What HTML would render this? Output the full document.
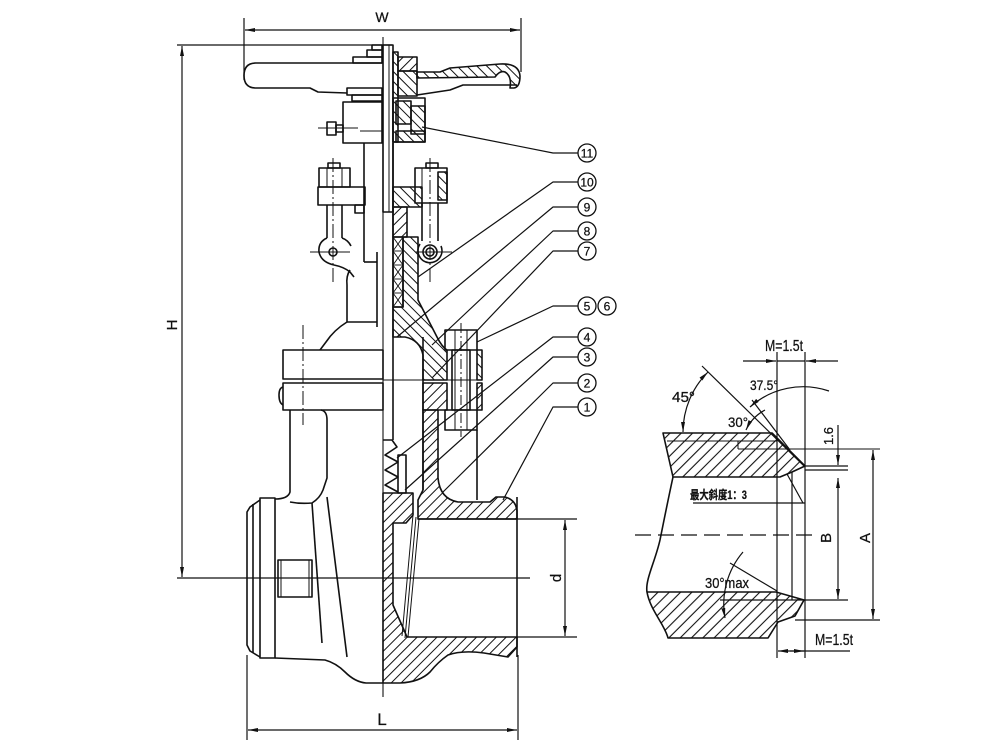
<!DOCTYPE html>
<html><head><meta charset="utf-8"><style>
html,body{margin:0;padding:0;background:#fff;}
svg{display:block;}
text{font-family:"Liberation Sans Narrow","Liberation Sans","Noto Sans CJK SC",sans-serif;fill:#111;stroke:#111;stroke-width:0.25;}
</style></head><body>
<svg width="1000" height="750" viewBox="0 0 1000 750" xmlns="http://www.w3.org/2000/svg">
<defs>
<pattern id="ha" width="7" height="7" patternUnits="userSpaceOnUse" patternTransform="rotate(45)"><line x1="3.5" y1="0" x2="3.5" y2="7" stroke="#111" stroke-width="1"/></pattern>
<pattern id="hb" width="7" height="7" patternUnits="userSpaceOnUse" patternTransform="rotate(-45)"><line x1="3.5" y1="0" x2="3.5" y2="7" stroke="#111" stroke-width="1"/></pattern>
<pattern id="hd" width="8" height="8" patternUnits="userSpaceOnUse" patternTransform="rotate(45)"><line x1="4" y1="0" x2="4" y2="8" stroke="#111" stroke-width="1.1"/></pattern>
<marker id="ar" viewBox="0 0 10 4" refX="10" refY="2" markerWidth="10" markerHeight="4" markerUnits="userSpaceOnUse" orient="auto-start-reverse"><path d="M0,0L10,2L0,4z" fill="#111" stroke="none"/></marker>
</defs>
<rect width="1000" height="750" fill="#fff"/>

<g stroke="#111" stroke-width="1.6" fill="none" stroke-linejoin="round">

<!-- ===== dimensions W / H / L / d ===== -->
<g stroke-width="1.2">
<line x1="244" y1="18" x2="244" y2="80"/>
<line x1="521" y1="18" x2="521" y2="72"/>
<line x1="245" y1="30" x2="520" y2="30" marker-start="url(#ar)" marker-end="url(#ar)"/>
<line x1="177" y1="45" x2="392" y2="45"/>
<line x1="182" y1="46" x2="182" y2="577" marker-start="url(#ar)" marker-end="url(#ar)"/>
<line x1="177" y1="578" x2="530" y2="578"/>
<line x1="247" y1="655" x2="247" y2="740"/>
<line x1="518" y1="655" x2="518" y2="740"/>
<line x1="248" y1="730" x2="517" y2="730" marker-start="url(#ar)" marker-end="url(#ar)"/>
<line x1="517" y1="519" x2="577" y2="519"/>
<line x1="517" y1="637" x2="577" y2="637"/>
<line x1="565" y1="520" x2="565" y2="636" marker-start="url(#ar)" marker-end="url(#ar)"/>
<line x1="383" y1="37" x2="383" y2="697" stroke-width="1.1"/>
</g>

<!-- ===== handwheel ===== -->
<path d="M382,63 L256,63 Q244,63 244,75.5 Q244,88 256,88 L310,88 L318,92 L347,93"/>
<rect x="353" y="57" width="29" height="6"/>
<rect x="367" y="50" width="15" height="7"/>
<rect x="372" y="45" width="10" height="5"/>
<rect x="347" y="88" width="35" height="7"/>
<rect x="352" y="95" width="30" height="6"/>
<rect x="383" y="45" width="10" height="167"/>
<line x1="389" y1="45" x2="389" y2="212" stroke-width="1"/>
<rect x="393" y="52" width="5" height="90" fill="url(#hb)"/>
<rect x="398" y="57" width="19" height="14" fill="url(#ha)"/>
<rect x="398" y="71" width="19" height="25" fill="url(#hb)"/>
<path d="M417,72 L440,72 L450,68 L500,64 Q519,63 520,76 Q520,87 514,88 L510,88 Q512,76 505,72 Q500,70 495,77 L417,78 Z" fill="url(#hb)"/>
<path d="M417,95 L450,90 L463,85 L517,85"/>
<rect x="393" y="98" width="32" height="44"/>
<rect x="396" y="101" width="15" height="23" fill="url(#hb)"/>
<rect x="411" y="106" width="14" height="28" fill="url(#hb)"/>
<rect x="396" y="131" width="29" height="11" fill="url(#hb)"/>
<rect x="343" y="102" width="39" height="41"/>
<line x1="360" y1="131" x2="382" y2="131" stroke-width="1"/>
<rect x="327" y="122" width="9" height="13"/>
<rect x="336" y="125" width="7" height="7"/>
<line x1="318" y1="128" x2="358" y2="128" stroke-width="1"/>
<line x1="364" y1="143" x2="364" y2="262"/>
<line x1="364" y1="262" x2="377" y2="262"/>
<line x1="377" y1="252" x2="377" y2="327"/>
<line x1="347" y1="322" x2="377" y2="322"/>
<path d="M350,270 Q346,276 347,285 L347,322 Q334,330 326,342 L320,350"/>

<!-- ===== gland bolts ===== -->
<rect x="328" y="163" width="12" height="5"/>
<rect x="319" y="168" width="31" height="19"/>
<line x1="327" y1="168" x2="327" y2="187" stroke-width="1"/>
<line x1="342" y1="168" x2="342" y2="187" stroke-width="1"/>
<rect x="318" y="187" width="47" height="18"/>
<rect x="355" y="205" width="9" height="8"/>
<line x1="327" y1="205" x2="327" y2="238"/>
<line x1="342" y1="205" x2="342" y2="238"/>
<path d="M327,238 Q318,242 319,252 Q321,262 334,265 Q344,267 350,272 L354,277"/>
<path d="M342,238 Q348,240 351,246"/>
<circle cx="333" cy="252" r="4"/>
<line x1="310" y1="252" x2="350" y2="252" stroke-width="1"/>
<line x1="333" y1="158" x2="333" y2="284" stroke-width="1" stroke-dasharray="14,3,2,3"/>

<rect x="426" y="163" width="12" height="5"/>
<rect x="415" y="168" width="32" height="35"/>
<rect x="438" y="172" width="9" height="28" fill="url(#hb)"/>
<line x1="422" y1="168" x2="422" y2="203" stroke-width="1"/>
<rect x="393" y="187" width="29" height="20" fill="url(#hb)"/>
<line x1="422" y1="203" x2="422" y2="241"/>
<line x1="438" y1="203" x2="438" y2="241"/>
<circle cx="430" cy="252" r="4"/>
<circle cx="430" cy="252" r="7"/>
<path d="M420,244 A12,12 0 1 0 441,246"/>
<line x1="415" y1="252" x2="452" y2="252" stroke-width="1"/>
<line x1="430" y1="158" x2="430" y2="284" stroke-width="1" stroke-dasharray="14,3,2,3"/>

<rect x="393" y="207" width="14" height="30" fill="url(#ha)"/>
<rect x="393" y="237" width="10" height="70"/>
<g stroke-width="0.9">
<line x1="393" y1="251" x2="403" y2="251"/><line x1="393" y1="265" x2="403" y2="265"/><line x1="393" y1="279" x2="403" y2="279"/><line x1="393" y1="293" x2="403" y2="293"/>
<path d="M393,237L403,251M403,237L393,251M393,251L403,265M403,251L393,265M393,265L403,279M403,265L393,279M393,279L403,293M403,279L393,293M393,293L403,307M403,293L393,307"/>
</g>
<path d="M403,237 L418,237 L418,300 L437,337 Q442,347 447,350 L447,380 L423,380 L423,355 Q420,340 405,337 L393,337 L393,307 L403,307 Z" fill="url(#hb)"/>
<rect x="477" y="350" width="5" height="30" fill="url(#hb)"/>
<rect x="423" y="383" width="24" height="27" fill="url(#ha)"/>
<rect x="477" y="383" width="5" height="27" fill="url(#ha)"/>
<rect x="445" y="330" width="32" height="20"/>
<rect x="452" y="350" width="18" height="60"/>
<rect x="445" y="410" width="32" height="20"/>
<line x1="455" y1="330" x2="455" y2="430" stroke-width="1"/>
<line x1="467" y1="330" x2="467" y2="430" stroke-width="1"/>
<line x1="461" y1="323" x2="461" y2="437" stroke-width="1" stroke-dasharray="10,3,2,3"/>
<line x1="477" y1="430" x2="477" y2="500"/>
<line x1="393" y1="143" x2="393" y2="440"/>
<line x1="423" y1="337" x2="423" y2="490"/>

<rect x="283" y="350" width="100" height="29"/>
<rect x="283" y="383" width="100" height="27"/>
<line x1="383" y1="380" x2="482" y2="380" stroke-width="1"/>
<path d="M283,387 Q279,388 279,395 Q279,403 283,405"/>
<line x1="303" y1="325" x2="303" y2="425" stroke-width="1" stroke-dasharray="14,3,2,3"/>
<path d="M290,410 L290,492 Q288,499 275,499"/>
<path d="M290,502 Q300,504 312,503 Q320,498 323,490 L327,478 L327,420 Q327,411 321,410"/>
<line x1="312" y1="503" x2="322" y2="643"/>
<line x1="327" y1="497" x2="347" y2="657"/>

<polyline points="383,440 392,440 397,447 385,455 398,462 385,470 398,477 385,485 398,492"/>
<rect x="398" y="455" width="8" height="38"/>

<path d="M423,410 L438,410 L438,478 Q440,499 458,502 L490,502 L496,497 L505,497 Q516,500 517,511 L517,519 L418,519 L418,500 L423,490 Z" fill="url(#ha)"/>
<path d="M383,493 L413,493 L413,515 L406,523 L393,523 L393,605 L404,630 L407,637 L517,637 L517,647 L508,657 L484,653 Q462,650 448,655 Q438,662 430,672 Q420,682 400,683 L383,683 Z" fill="url(#ha)"/>
<line x1="413" y1="515" x2="402" y2="636" stroke-width="1"/>
<line x1="416" y1="517" x2="405" y2="638" stroke-width="1"/>
<line x1="419" y1="519" x2="408" y2="637" stroke-width="1"/>
<line x1="517" y1="497" x2="517" y2="657"/>
<line x1="418" y1="519" x2="517" y2="519"/>

<path d="M260,500 L250,507 L247,512 L247,645 L250,651 L260,657"/>
<line x1="253" y1="504" x2="253" y2="653"/>
<rect x="260" y="498" width="15" height="160"/>
<rect x="278" y="560" width="34" height="37"/>
<line x1="281" y1="560" x2="281" y2="597" stroke-width="1"/>
<line x1="309" y1="560" x2="309" y2="597" stroke-width="1"/>
<path d="M275,658 L325,660 Q336,663 345,672 Q355,682 366,683 L383,683"/>

<!-- ===== leaders ===== -->
<g stroke-width="1.2">
<polyline points="422,127 553,153 578,153"/>
<polyline points="418,277 553,182 578,182"/>
<polyline points="397,337 553,207 578,207"/>
<polyline points="432,345 553,231 578,231"/>
<polyline points="432,378 553,251 578,251"/>
<polyline points="477,342 553,306 578,306"/>
<polyline points="397,458 553,337 578,337"/>
<polyline points="405,490 553,357 578,357"/>
<polyline points="443,492 553,383 578,383"/>
<polyline points="503,500 553,407 578,407"/>
</g>
<g stroke-width="1.3">
<circle cx="587" cy="153" r="9"/><circle cx="587" cy="182" r="9"/><circle cx="587" cy="207" r="9"/>
<circle cx="587" cy="231" r="9"/><circle cx="587" cy="251" r="9"/><circle cx="587" cy="306" r="9"/>
<circle cx="607" cy="306" r="9"/><circle cx="587" cy="337" r="9"/><circle cx="587" cy="357" r="9"/>
<circle cx="587" cy="383" r="9"/><circle cx="587" cy="407" r="9"/>
</g>

<!-- ===== right detail ===== -->
<path d="M663,433 L772,433 L805,466 L792,472 L780,477 L673,477 Q668,455 663,433 Z" fill="url(#hd)"/>
<line x1="667" y1="441" x2="777" y2="441" stroke-width="1"/>
<line x1="738" y1="449" x2="880" y2="449" stroke-width="1.1"/>
<line x1="738" y1="441" x2="738" y2="449" stroke-width="1"/>
<path d="M673,477 C668,500 664,520 660,540 C655,562 645,580 647,592"/>
<path d="M647,592 L776,592 L804,600 L795,616 L778,622 L768,638 L668,638 C665,625 650,610 647,592 Z" fill="url(#hd)"/>
<g stroke-width="1.2">
<line x1="777" y1="352" x2="777" y2="658"/>
<line x1="805" y1="352" x2="805" y2="658"/>
<line x1="792" y1="472" x2="792" y2="600"/>
<line x1="787" y1="474" x2="803" y2="503"/>
<line x1="693" y1="503" x2="805" y2="503"/>
<line x1="720" y1="600" x2="848" y2="600"/>
<line x1="795" y1="620" x2="880" y2="620"/>
<line x1="805" y1="466" x2="848" y2="466"/>
<line x1="805" y1="470" x2="848" y2="470"/>
<line x1="635" y1="535" x2="818" y2="535" stroke-dasharray="16,7"/>
<line x1="743" y1="361" x2="776" y2="361" marker-end="url(#ar)"/>
<line x1="838" y1="361" x2="806" y2="361" marker-end="url(#ar)"/>
<line x1="777" y1="361" x2="805" y2="361"/>
<line x1="850" y1="651" x2="778" y2="651" marker-end="url(#ar)"/>
<line x1="790" y1="651" x2="804" y2="651" marker-end="url(#ar)"/>
<line x1="873" y1="450" x2="873" y2="619" marker-start="url(#ar)" marker-end="url(#ar)"/>
<line x1="838" y1="425" x2="838" y2="465" marker-end="url(#ar)"/>
<line x1="838" y1="478" x2="838" y2="599" marker-start="url(#ar)" marker-end="url(#ar)"/>
<line x1="702" y1="366" x2="805" y2="467"/>
<line x1="752" y1="400" x2="790" y2="450"/>
<line x1="730" y1="563" x2="777" y2="591"/>
<path d="M683,432 A85,85 0 0 1 708,372" marker-start="url(#ar)" marker-end="url(#ar)"/>
<path d="M750,407 A80,80 0 0 1 829,391" marker-start="url(#ar)"/>
<path d="M746,430 A44,44 0 0 1 765,410" marker-start="url(#ar)"/>
<path d="M743,552 A80,80 0 0 0 725,618" marker-end="url(#ar)"/>
</g>
</g>

<!-- ===== text ===== -->
<text x="382" y="22" font-size="14" text-anchor="middle">W</text>
<text transform="translate(177,325) rotate(-90)" font-size="15" text-anchor="middle">H</text>
<text x="382" y="725" font-size="17" text-anchor="middle">L</text>
<text transform="translate(561,578) rotate(-90)" font-size="15" text-anchor="middle">d</text>

<g font-size="12" text-anchor="middle">
<text x="587" y="157.5">11</text>
<text x="587" y="186.5">10</text>
<text x="587" y="211.5">9</text>
<text x="587" y="235.5">8</text>
<text x="587" y="255.5">7</text>
<text x="587" y="310.5">5</text>
<text x="607" y="310.5">6</text>
<text x="587" y="341.5">4</text>
<text x="587" y="361.5">3</text>
<text x="587" y="387.5">2</text>
<text x="587" y="411.5">1</text>
</g>

<text x="765" y="351" font-size="16" textLength="38" lengthAdjust="spacingAndGlyphs">M=1.5t</text>
<text x="815" y="645" font-size="16" textLength="38" lengthAdjust="spacingAndGlyphs">M=1.5t</text>
<text x="672" y="402" font-size="15" textLength="23" lengthAdjust="spacingAndGlyphs">45°</text>
<text x="750" y="390" font-size="14" textLength="28" lengthAdjust="spacingAndGlyphs">37.5°</text>
<text x="728" y="427" font-size="14" textLength="20" lengthAdjust="spacingAndGlyphs">30°</text>
<text x="705" y="588" font-size="15" textLength="44" lengthAdjust="spacingAndGlyphs">30°max</text>
<text transform="translate(833,436) rotate(-90)" font-size="13" text-anchor="middle">1.6</text>
<text transform="translate(831,538) rotate(-90)" font-size="15" text-anchor="middle">B</text>
<text transform="translate(870,538) rotate(-90)" font-size="15" text-anchor="middle">A</text>
<text x="690" y="499" font-size="12" font-weight="bold" textLength="57" lengthAdjust="spacingAndGlyphs" style="font-family:'Liberation Sans','Noto Sans CJK SC',sans-serif">最大斜度1：3</text>
</svg>
</body></html>
